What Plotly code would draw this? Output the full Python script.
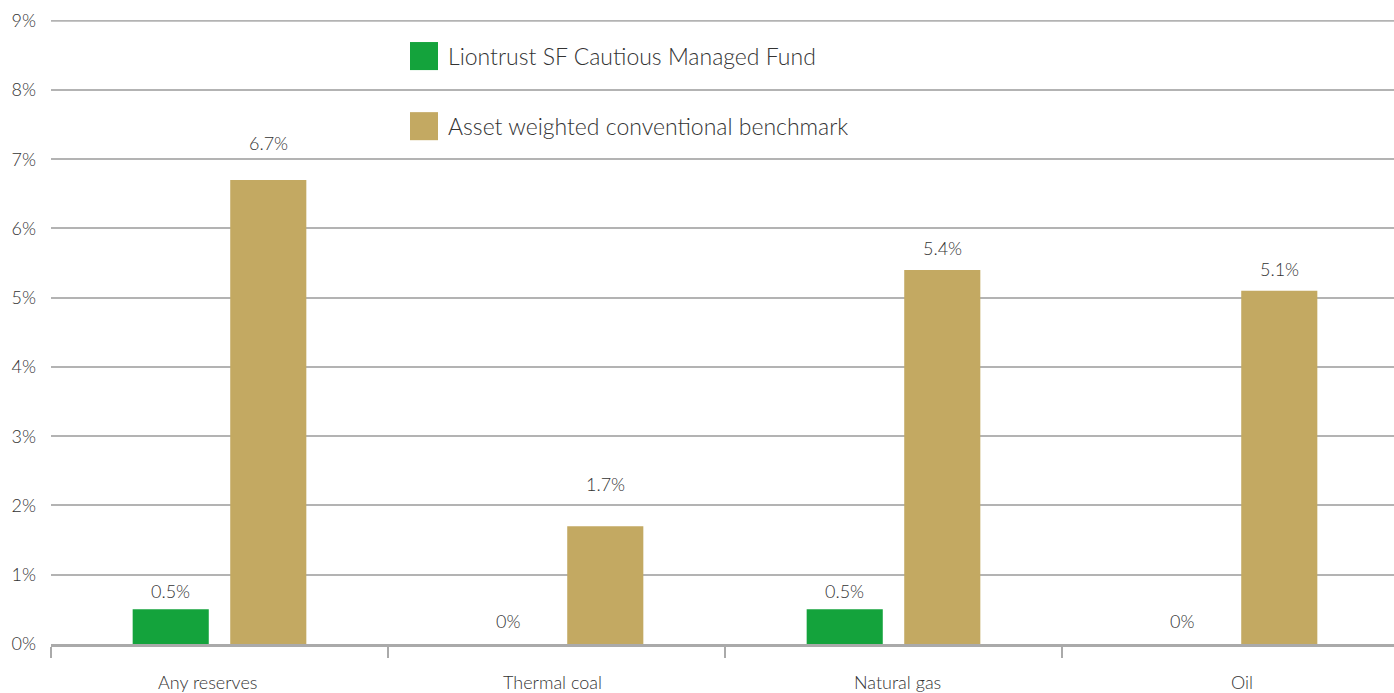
import plotly.graph_objects as go

categories = ["Any reserves", "Thermal coal", "Natural gas", "Oil"]
fund_values = [0.5, 0, 0.5, 0]
bench_values = [6.7, 1.7, 5.4, 5.1]
series_names = ["Liontrust SF Cautious Managed Fund", "Asset weighted conventional benchmark"]
colors = ["#14a33c", "#c3a962"]
y_ticks = list(range(0, 10))
y_tick_labels = [f"{v}%" for v in y_ticks]
# styling only: label vertical offsets (px above bar top) and category label x shifts
label_shift = [[18, 23, 18, 23], [37, 42, 22, 22]]
cat_label_xshift = [-12, -4, 4, 11]

FONT = "Lato, 'DejaVu Sans', sans-serif"
TXT = "#333333"
W = 300
PW = 1348  # plot width in px

fig = go.Figure()
for name, vals, col in zip(series_names, [fund_values, bench_values], colors):
    fig.add_trace(go.Bar(
        x=categories, y=vals, name=name, marker=dict(color=col, line=dict(width=0)),
        showlegend=False,
    ))

# value labels above bars
for k, vals in enumerate([fund_values, bench_values]):
    for j, (c, v) in enumerate(zip(categories, vals)):
        fig.add_annotation(x=c, y=v, text=f"{v:g}%", showarrow=False,
                           xshift=(-48.75 if k == 0 else 48.75), yshift=label_shift[k][j],
                           yanchor="middle", xanchor="center",
                           font=dict(family=FONT, size=18, color=TXT, weight=W))

# category labels
for c, dx in zip(categories, cat_label_xshift):
    fig.add_annotation(x=c, xref="x", y=0, yref="paper", text=c, showarrow=False,
                       xshift=dx, yshift=-38, yanchor="middle", xanchor="center",
                       font=dict(family=FONT, size=18, color=TXT, weight=W))

# top gridline
fig.add_shape(type="line", xref="paper", yref="y", x0=0, x1=1, y0=9, y1=9,
              line=dict(color="#b3b3b3", width=2), layer="below")

# legend drawn as squares + labels
for i, (name, col) in enumerate(zip(series_names, colors)):
    yc = 57 + 70 * i
    fig.add_shape(type="rect", xref="paper", yref="paper",
                  x0=(410 - 51) / PW, x1=(438 - 51) / PW,
                  y0=1 - (yc + 14 - 21) / 623, y1=1 - (yc - 14 - 21) / 623,
                  fillcolor=col, line=dict(width=0), layer="above")
    fig.add_annotation(xref="paper", yref="paper", x=(446 - 51) / PW,
                       y=1 - (yc - 21) / 623, text=name, showarrow=False,
                       xanchor="left", yanchor="middle",
                       font=dict(family=FONT, size=23, color=TXT, weight=W))

fig.update_layout(
    width=51 + PW + 1, height=693,
    margin=dict(l=51, r=1, t=20, b=49),
    paper_bgcolor="white", plot_bgcolor="white",
    barmode="group", bargap=0.421, bargroupgap=0.22,
    font=dict(family=FONT, color=TXT, weight=W),
)
fig.update_yaxes(
    range=[0, 9.01], tickvals=y_ticks, ticktext=y_tick_labels,
    showgrid=True, gridcolor="#b3b3b3", gridwidth=2,
    zeroline=False, showline=False, automargin=False,
    tickfont=dict(family=FONT, size=18, color=TXT, weight=W), ticklabelstandoff=14,
)
fig.update_xaxes(
    showline=True, linecolor="#aaaaaa", linewidth=3,
    ticks="outside", tickson="boundaries", ticklen=11, tickcolor="#aaaaaa", tickwidth=2,
    showticklabels=False, showgrid=False, automargin=False,
)
fig.write_html("out.html", config={"displayModeBar": False},
               post_script="document.body.style.margin='0';document.body.style.overflow='hidden';")
